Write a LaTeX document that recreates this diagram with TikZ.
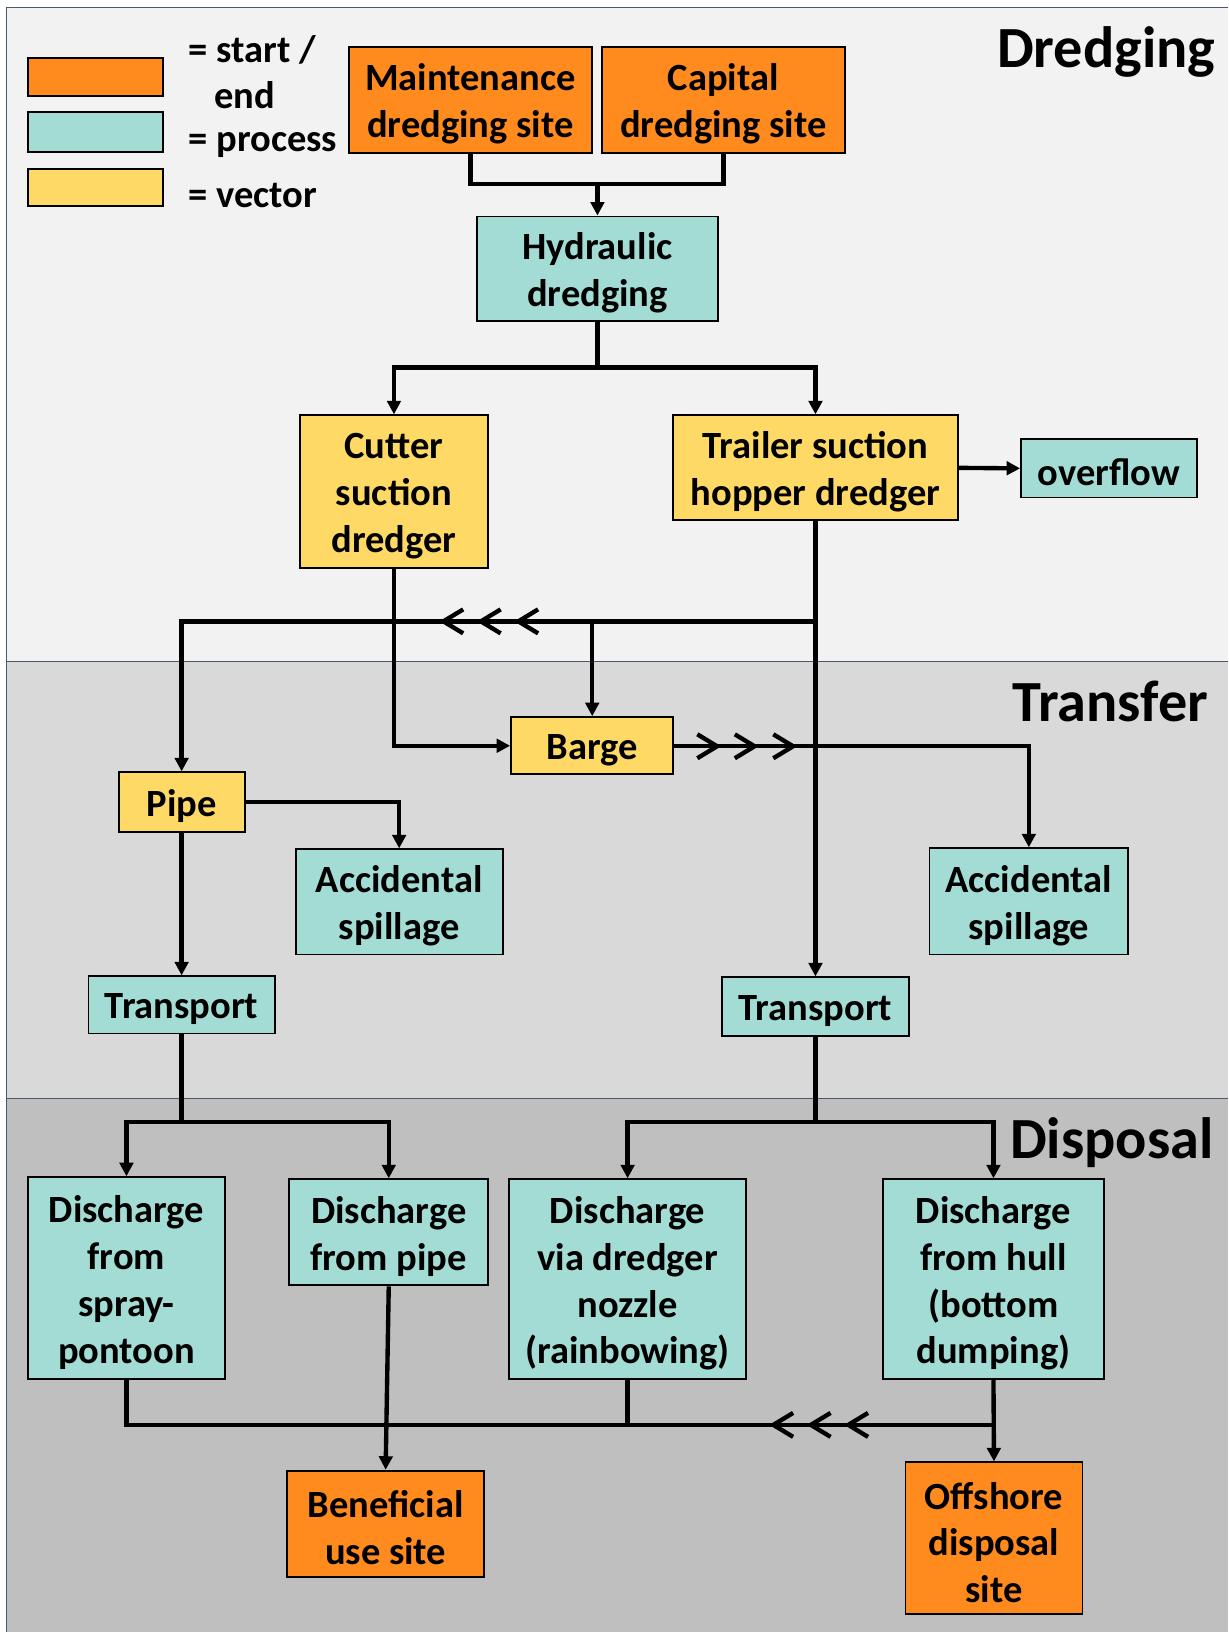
\documentclass[tikz,border=0pt]{standalone}
\usepackage{fontspec}
\setmainfont{Carlito}
\usetikzlibrary{arrows.meta}
\definecolor{orangeC}{HTML}{FF8B1E}
\definecolor{tealC}{HTML}{A2DCD4}
\definecolor{yellowC}{HTML}{FFD966}
\definecolor{bandA}{HTML}{F2F2F2}
\definecolor{bandB}{HTML}{D9D9D9}
\definecolor{bandC}{HTML}{BFBFBF}
\definecolor{sepC}{HTML}{4A5A6E}
\tikzset{
  plainbox/.style={draw=black, line width=1.8pt, inner sep=0pt},
  boxtext/.style={align=center, inner sep=0pt, yshift=-4pt,
    font=\fontsize{37}{45}\selectfont\bfseries},
  endbox/.style={plainbox, fill=orangeC},
  procbox/.style={plainbox, fill=tealC},
  vecbox/.style={plainbox, fill=yellowC},
  txt/.style={label={[boxtext]center:{#1}}},
  legtext/.style={anchor=base west, inner sep=0pt, font=\fontsize{37}{45}\selectfont\bfseries},
  sectitle/.style={anchor=base east, inner sep=0pt, font=\fontsize{56}{60}\selectfont\bfseries},
  conn/.style={draw=black, line width=4.2pt},
  arr/.style={conn, -{Triangle[length=13pt,width=13pt]}},
  chevline/.style={draw=black, line width=4.2pt, line join=miter},
  chevleft/.pic={\draw[chevline] (19,-11.5) -- (0,0) -- (19,11.5);},
  chevright/.pic={\draw[chevline] (-19,-11.5) -- (0,0) -- (-19,11.5);},
  sep/.style={draw=sepC, line width=1pt}
}
\begin{document}
\begin{tikzpicture}[x=1pt,y=-1pt]
\useasboundingbox (0,0) rectangle (1180,1568);
% bands
\fill[bandA] (6,7) rectangle (1180,636);
\fill[bandB] (6,636) rectangle (1180,1055);
\fill[bandC] (6,1055) rectangle (1180,1568);
\draw[sep] (6,636) -- (1180,636);
\draw[sep] (6,1055) -- (1180,1055);
\draw[sep] (1180,7) -- (6,7) -- (6,1568);

% section titles
\node[sectitle] (tdredge) at (1168,65) {Dredging};
\node[sectitle] (ttransfer) at (1161,693) {Transfer};
\node[sectitle] (tdisposal) at (1166,1113) {Disposal};

% legend
\node[endbox, minimum width=130pt, minimum height=36pt] (lgend) at (92,74) {};
\node[procbox, minimum width=130pt, minimum height=38pt] (lgproc) at (92,127) {};
\node[vecbox, minimum width=130pt, minimum height=36pt] (lgvec) at (92,180) {};
\node[legtext] (lt1) at (181,60) {= start /};
\node[legtext] (lt2) at (206,104) {end};
\node[legtext] (lt3) at (181,146) {= process};
\node[legtext] (lt4) at (181,199) {= vector};

% nodes
\node[endbox, minimum width=234pt, minimum height=102pt, txt={Maintenance\\dredging site}] (maint) at (452,96) {};
\node[endbox, minimum width=234pt, minimum height=102pt, txt={Capital\\dredging site}] (capital) at (695,96) {};
\node[procbox, minimum width=232pt, minimum height=100pt, txt={Hydraulic\\dredging}] (hydr) at (574,258) {};
\node[vecbox, minimum width=181pt, minimum height=147pt, txt={Cutter\\suction\\dredger}] (cutter) at (378.5,472.5) {};
\node[vecbox, minimum width=273pt, minimum height=101pt, txt={Trailer suction\\hopper dredger}] (trailer) at (783.5,449.5) {};
\node[procbox, minimum width=169pt, minimum height=56pt, txt={overflow}] (overflow) at (1065.5,450) {};
\node[vecbox, minimum width=156pt, minimum height=55pt, txt={Barge}] (barge) at (569,716.5) {};
\node[vecbox, minimum width=121pt, minimum height=57pt, txt={Pipe}] (pipe) at (174.5,770.5) {};
\node[procbox, minimum width=199pt, minimum height=101pt, txt={Accidental\\spillage}] (acc1) at (383.5,866.5) {};
\node[procbox, minimum width=191pt, minimum height=102pt, txt={Accidental\\spillage}] (acc2) at (988.5,866) {};
\node[procbox, minimum width=179pt, minimum height=55pt, txt={Transport}] (trans1) at (174.5,965.5) {};
\node[procbox, minimum width=179pt, minimum height=56pt, txt={Transport}] (trans2) at (783.5,967) {};
\node[procbox, minimum width=189pt, minimum height=194pt, txt={Discharge\\from\\spray-\\pontoon}] (d1) at (121.5,1228) {};
\node[procbox, minimum width=191pt, minimum height=102pt, txt={Discharge\\from pipe}] (d2) at (373.5,1184) {};
\node[procbox, minimum width=228pt, minimum height=192pt, txt={Discharge\\via dredger\\nozzle\\(rainbowing)}] (d3) at (603,1229) {};
\node[procbox, minimum width=213pt, minimum height=192pt, txt={Discharge\\from hull\\(bottom\\dumping)}] (d4) at (954.5,1229) {};
\node[endbox, minimum width=189pt, minimum height=102pt, txt={Beneficial\\use site}] (benef) at (370.5,1464) {};
\node[endbox, minimum width=170pt, minimum height=146pt, txt={Offshore\\disposal\\site}] (offsh) at (955,1478) {};

% junctions
\coordinate (j1) at (574,177);
\coordinate (j2) at (574,353);
\coordinate (j3) at (783.5,597);
\coordinate (j4) at (569,597);
\coordinate (j5) at (174.5,1078);
\coordinate (j6) at (783.5,1078);
\coordinate (j7) at (954.5,1369);

% connectors
\draw[conn] (maint.south) |- (j1) -| (capital.south);
\draw[arr] (j1) -- (hydr.north);
\draw[conn] (hydr.south) -- (j2);
\draw[arr] (j2) -| (cutter.north);
\draw[arr] (j2) -| (trailer.north);
\draw[arr] (trailer.east) -- (overflow.west);
\draw[arr] (trailer.south) -- (trans2.north);
\draw[arr] (j3) -| (pipe.north);
\draw[arr] (j4) -- (barge.north);
\draw[arr] (cutter.south) |- (barge.west);
\draw[arr] (barge.east) -| (acc2.north);
\draw[arr] (pipe.east) -| (acc1.north);
\draw[arr] (pipe.south) -- (trans1.north);
\draw[conn] (trans1.south) -- (j5);
\draw[arr] (j5) -| (d1.north);
\draw[arr] (j5) -| (d2.north);
\draw[conn] (trans2.south) -- (j6);
\draw[arr] (j6) -| (d3.north);
\draw[arr] (j6) -| (d4.north);
\draw[conn] (d1.south) |- (j7);
\draw[conn] (d3.south) -- (d3.south |- j7);
\draw[arr] (d4.south) -- (offsh.north);
\draw[arr] (d2.south) -- (benef.north);

% chevrons
\pic at (426,597) {chevleft};
\pic at (462,597) {chevleft};
\pic at (498,597) {chevleft};
\pic at (689,717) {chevright};
\pic at (725,717) {chevright};
\pic at (762,717) {chevright};
\pic at (743,1369) {chevleft};
\pic at (779,1369) {chevleft};
\pic at (815,1369) {chevleft};
\end{tikzpicture}
\end{document}
